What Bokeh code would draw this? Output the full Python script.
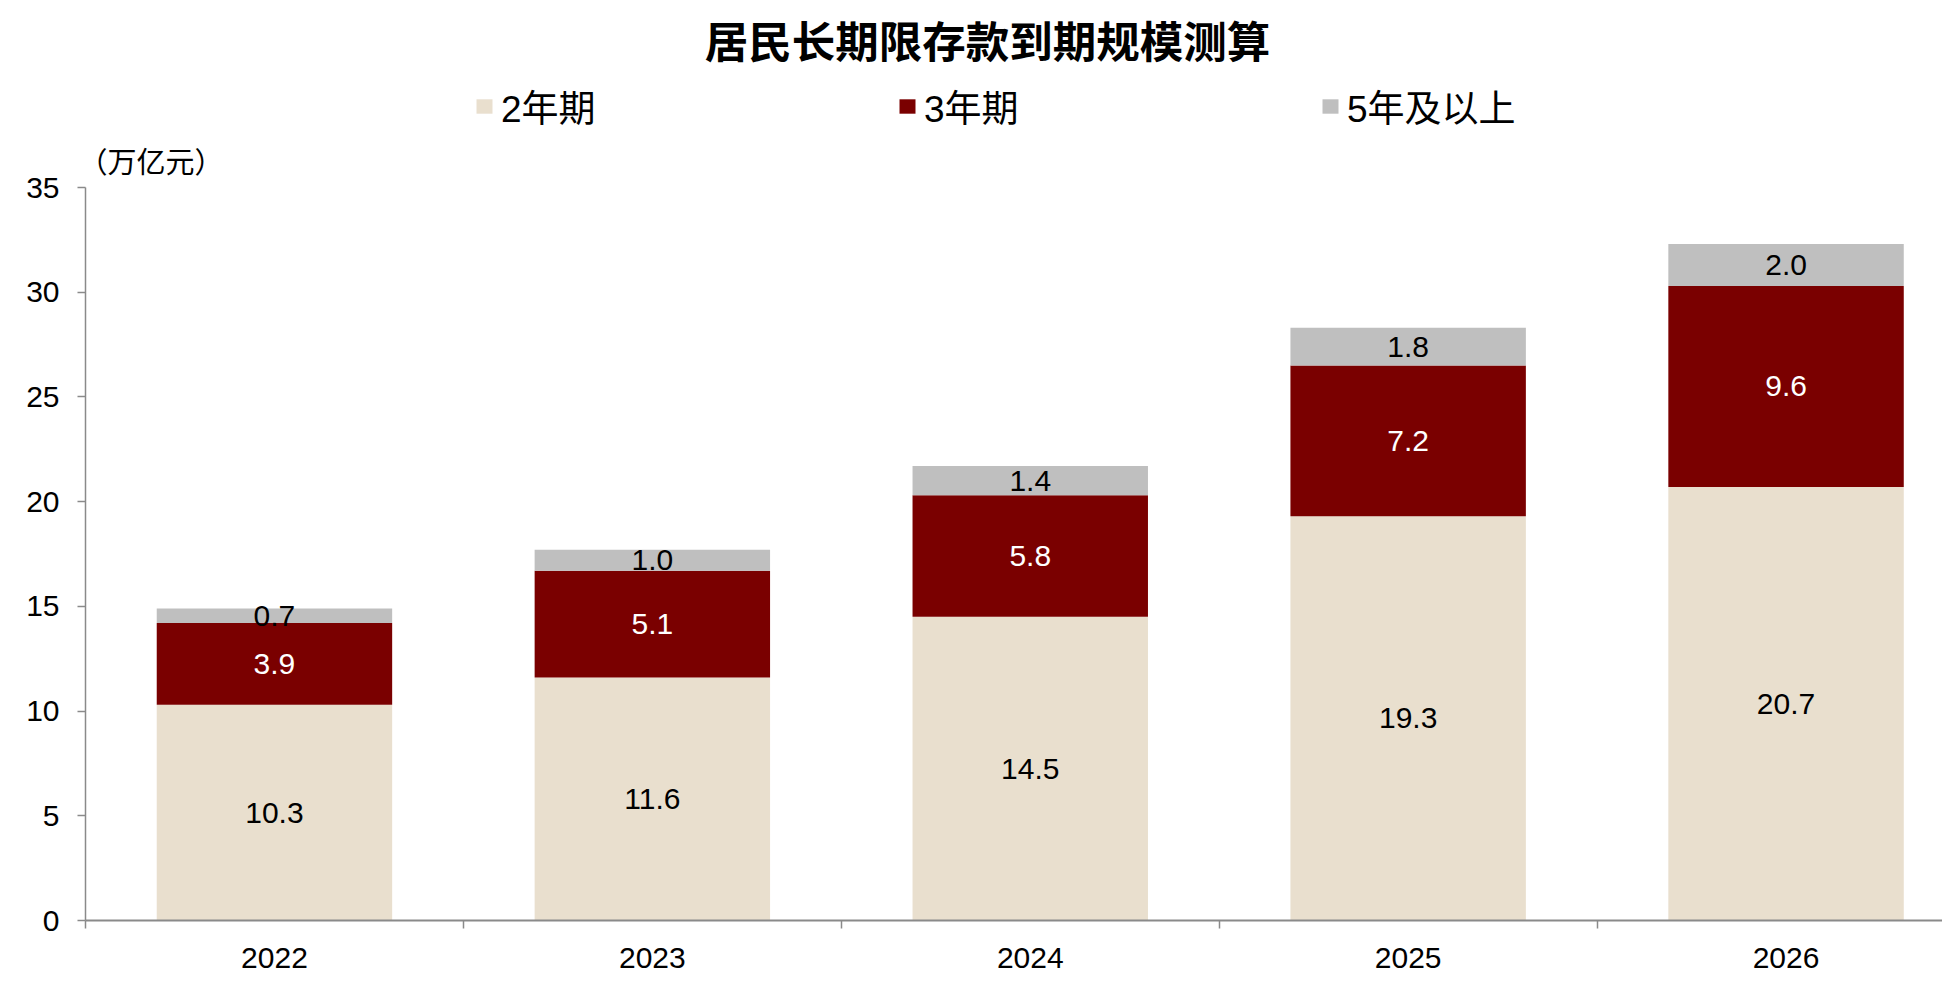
from bokeh.plotting import figure
from bokeh.models import FixedTicker, Range1d, Label, Legend, LegendItem, ColumnDataSource
from bokeh.core.properties import value
from bokeh.embed import file_html
from bokeh.resources import INLINE

# ---- data ----
years = ["2022", "2023", "2024", "2025", "2026"]
series_names = ["2年期", "3年期", "5年及以上"]
two_year = [10.3, 11.6, 14.5, 19.3, 20.7]
three_year = [3.9, 5.1, 5.8, 7.2, 9.6]
five_plus = [0.7, 1.0, 1.4, 1.8, 2.0]
y_ticks = [0, 5, 10, 15, 20, 25, 30, 35]
y_max = 35
title_text = "居民长期限存款到期规模测算"
unit_text = "（万亿元）"

# ---- style ----
colors = ["#E9DFCE", "#7A0000", "#BFBFBF"]
label_colors = ["#000000", "#FFFFFF", "#000000"]
FONT = "Liberation Sans, Noto Sans CJK SC"
CJK_FONT = "Noto Sans CJK JP"
AXIS_COLOR = "#8a8a8a"

W, H = 1942, 976
BORDER_LEFT, BORDER_BOTTOM = 85, 56
FRAME_H = H - BORDER_BOTTOM          # frame reaches the top of the canvas
FRAME_W = W - BORDER_LEFT
AXIS_TOP_PX = 187                    # pixel row (from top) where y = 35 sits
CAT_PX = 377.9                       # width of one category in pixels
y_top = y_max * FRAME_H / (FRAME_H - AXIS_TOP_PX)
x_end = -0.5 + FRAME_W / CAT_PX

x = list(range(len(years)))
series = [two_year, three_year, five_plus]
keys = ["s0", "s1", "s2"]
src = ColumnDataSource(dict(x=x, s0=two_year, s1=three_year, s2=five_plus))

p = figure(width=W, height=H, output_backend="svg", toolbar_location=None,
           x_range=Range1d(-0.5, x_end), y_range=Range1d(0, y_top),
           min_border_left=BORDER_LEFT, min_border_right=0, min_border_top=0,
           min_border_bottom=BORDER_BOTTOM)
p.outline_line_color = None
p.xgrid.visible = False
p.ygrid.visible = False
p.background_fill_color = "white"
p.border_fill_color = "white"
p.title.visible = False

renderers = p.vbar_stack(keys, x="x", width=0.623, fill_color=colors, line_color=None, source=src)

# data labels centred in each segment
cum = [0.0] * len(x)
for vals, col in zip(series, label_colors):
    mids = [c + v / 2 for c, v in zip(cum, vals)]
    p.text(x=x, y=mids, text=[f"{v:.1f}" for v in vals], text_align="center",
           text_baseline="middle", text_color=col, text_font=value(FONT),
           text_font_size="30px")
    cum = [c + v for c, v in zip(cum, vals)]

# x axis: labels at centres, tick marks at category boundaries
xa = p.xaxis[0]
xa.ticker = FixedTicker(ticks=x, minor_ticks=[i - 0.5 for i in range(len(x) + 1)])
xa.major_label_overrides = {i: y for i, y in enumerate(years)}
xa.major_tick_out = 0
xa.major_tick_in = 0
xa.minor_tick_out = 8
xa.minor_tick_in = 0
xa.minor_tick_line_color = AXIS_COLOR
xa.minor_tick_line_width = 1.5
xa.axis_line_color = AXIS_COLOR
xa.axis_line_width = 2
xa.major_label_standoff = 19
xa.major_label_text_font = FONT
xa.major_label_text_font_size = "30px"
xa.major_label_text_color = "#000000"

ya = p.yaxis[0]
ya.ticker = FixedTicker(ticks=y_ticks)
ya.bounds = (0, y_max)
ya.major_tick_out = 8
ya.major_tick_in = 0
ya.minor_tick_out = 0
ya.minor_tick_in = 0
ya.major_tick_line_color = AXIS_COLOR
ya.major_tick_line_width = 1.5
ya.axis_line_color = AXIS_COLOR
ya.axis_line_width = 1.5
ya.major_label_standoff = 18
ya.major_label_text_font = FONT
ya.major_label_text_font_size = "30px"
ya.major_label_text_color = "#000000"

# title, unit and legend inside the (tall) frame, above the y = 35 line
p.add_layout(Label(x=902, y=FRAME_H - 42, x_units="screen", y_units="screen",
                   text=title_text, text_align="center", text_baseline="middle",
                   text_font=FONT, text_font_size="43.5px", text_font_style="bold",
                   text_color="#000000"))
p.add_layout(Label(x=-7, y=FRAME_H - 159, x_units="screen", y_units="screen",
                   text=unit_text, text_align="left", text_baseline="middle",
                   text_font=CJK_FONT, text_font_size="29px", text_color="#000000"))

legend = Legend(items=[LegendItem(label=n, renderers=[r]) for n, r in zip(series_names, renderers)],
                location=(389, FRAME_H - 133), orientation="horizontal", spacing=0,
                glyph_width=20, glyph_height=18, label_standoff=7, label_width=396,
                padding=0, margin=0,
                border_line_color=None, background_fill_alpha=0,
                label_text_font=FONT, label_text_font_size="37px", label_text_color="#000000")
p.add_layout(legend)

open("out.html", "w").write(file_html(p, INLINE))
